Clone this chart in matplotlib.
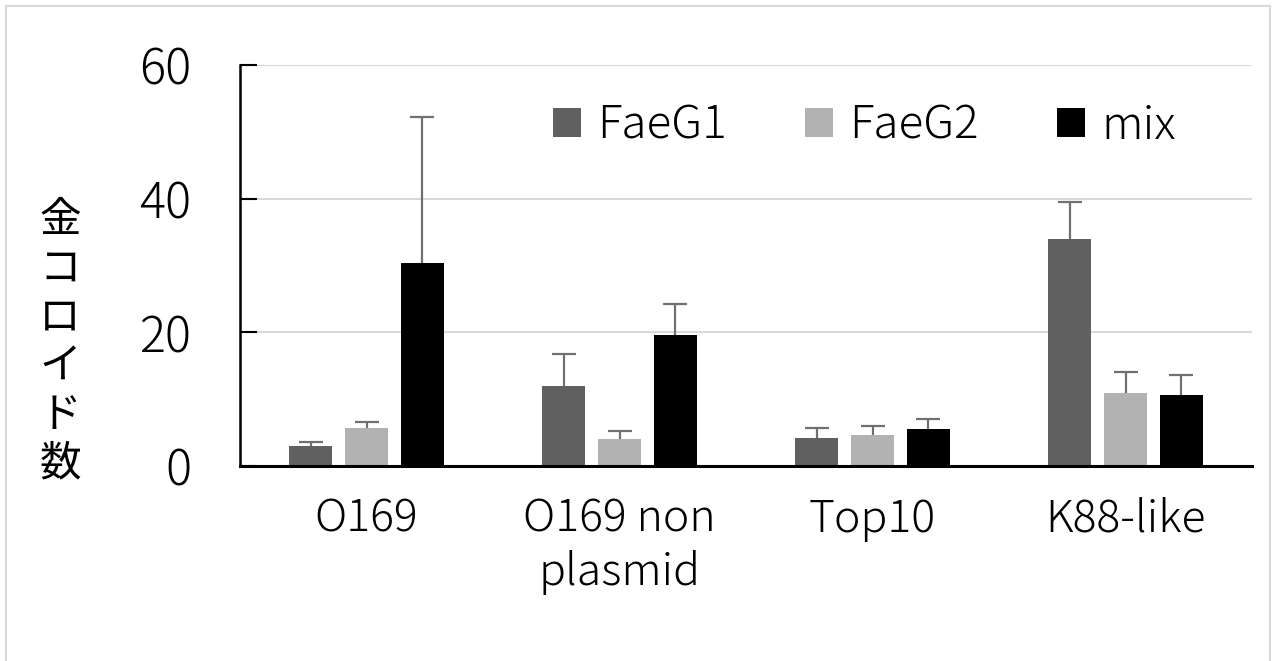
import matplotlib
matplotlib.use("Agg")
import matplotlib.pyplot as plt
import numpy as np
from matplotlib.patches import Rectangle

categories = ["O169", "O169 non\nplasmid", "Top10", "K88-like"]
series_names = ["FaeG1", "FaeG2", "mix"]
faeg1 = [3.0, 12.0, 4.25, 34.0]
faeg2 = [5.65, 4.0, 4.6, 10.95]
mix = [30.3, 19.6, 5.6, 10.6]
faeg1_err = [0.6, 4.7, 1.5, 5.55]
faeg2_err = [0.95, 1.25, 1.45, 3.05]
mix_err = [21.9, 4.7, 1.5, 3.05]
yticks = [0, 20, 40, 60]
ylabel = "金\nコ\nロ\nイ\nド\n数"

colors = ["#606060", "#b2b2b2", "#000000"]
plt.rcParams['font.family'] = ['Noto Sans CJK JP', 'DejaVu Sans']
LIGHT = 'light'

W, H = 1272, 661
fig = plt.figure(figsize=(W / 100, H / 100), dpi=100)
ax = fig.add_axes([240 / W, (H - 466) / H, (1252 - 240) / W, (466 - 65) / H])

x = np.arange(len(categories))
step = 0.221
width = 0.173
vals = [faeg1, faeg2, mix]
errs = [faeg1_err, faeg2_err, mix_err]
for i, (v, e, c, n) in enumerate(zip(vals, errs, colors, series_names)):
    pos = x + (i - 1) * step
    ax.bar(pos, v, width, color=c, label=n, zorder=2)
    eb = ax.errorbar(pos, v, yerr=[np.zeros(len(e)), e], fmt='none', ecolor='#707070',
                     elinewidth=1.6, capsize=8.5, capthick=1.6, zorder=3)
    caps = eb.lines[1]
    if len(caps) > 1:
        caps[0].set_visible(False)

ax.set_xlim(-0.5, len(categories) - 0.5)
ax.set_ylim(0, 60)
ax.set_yticks(yticks)
ax.set_xticks(x)
ax.set_xticklabels(categories, fontsize=32, linespacing=1.25, fontweight=LIGHT)
ax.tick_params(axis='x', length=0, pad=22)
ax.tick_params(axis='y', direction='in', length=12.5, width=1.5, pad=35, labelsize=35)
for t in ax.get_yticklabels():
    t.set_fontweight(LIGHT)
ax.yaxis.grid(True, color='#d9d9d9', linewidth=1.5, zorder=0)
ax.set_axisbelow(True)
for s in ['top', 'right']:
    ax.spines[s].set_visible(False)
ax.spines['left'].set_linewidth(1.8)
ax.spines['bottom'].set_linewidth(2.2)

fig.text(60 / W, (H - 342) / H, ylabel, fontsize=30, ha='center', va='center',
         linespacing=1.24)

leg = ax.legend(ncol=3, loc='center', bbox_to_anchor=((864 - 240) / (1252 - 240), (466 - 126) / (466 - 65)),
                frameon=False, prop={'size': 33, 'weight': LIGHT}, handlelength=0.62, handleheight=0.62,
                handletextpad=0.35, columnspacing=1.7, borderaxespad=0)

fig.patches.append(Rectangle((6 / W, -0.05), (1270 - 6) / W, 1.05 - 6 / H, transform=fig.transFigure,
                             fill=False, edgecolor='#d9d9d9', linewidth=1.5))

fig.savefig("out.png", dpi=100)
